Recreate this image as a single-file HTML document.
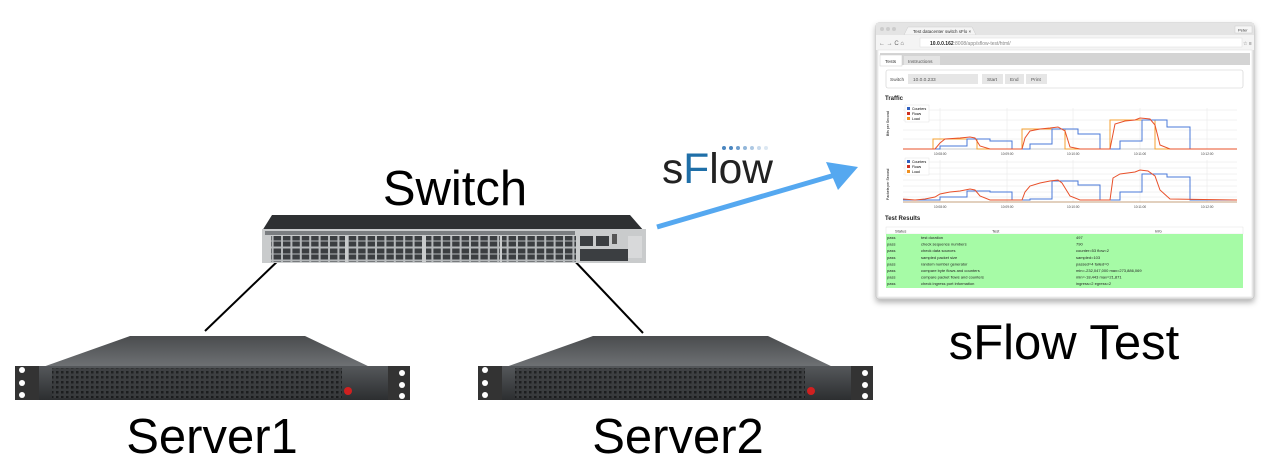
<!DOCTYPE html>
<html><head><meta charset="utf-8"><style>
html,body{margin:0;padding:0;background:#fff;width:1278px;height:476px;overflow:hidden}
svg{display:block}
</style></head><body>
<svg width="1278" height="476" viewBox="0 0 1278 476" xmlns="http://www.w3.org/2000/svg" font-family="Liberation Sans, sans-serif">
<defs>
<linearGradient id="top" x1="0" y1="0" x2="0" y2="1"><stop offset="0" stop-color="#4a4c4e"/><stop offset="1" stop-color="#707376"/></linearGradient>
<linearGradient id="front" x1="0" y1="0" x2="0" y2="1"><stop offset="0" stop-color="#55585b"/><stop offset="1" stop-color="#2c2e30"/></linearGradient>
<pattern id="grill" width="5" height="5" patternUnits="userSpaceOnUse"><rect width="5" height="5" fill="#3a3c3e"/><rect x="1" y="1" width="2.5" height="2.5" fill="#151617"/></pattern>
<pattern id="ports" width="9.4" height="13" patternUnits="userSpaceOnUse"><rect width="9.4" height="13" fill="#b5b8ba"/><rect x="1" y="1.5" width="7.4" height="5" fill="#3b3e41"/><rect x="1" y="7.5" width="7.4" height="5" fill="#3b3e41"/></pattern>
<filter id="sh" x="-5%" y="-5%" width="110%" height="115%"><feDropShadow dx="0" dy="3" stdDeviation="3" flood-color="#000" flood-opacity="0.3"/></filter>
</defs>

<text x="455" y="205" font-size="49" text-anchor="middle" fill="#000">Switch</text>
<text x="212" y="453" font-size="49" text-anchor="middle" fill="#000">Server1</text>
<text x="678" y="453" font-size="49" text-anchor="middle" fill="#000">Server2</text>
<text x="1064" y="359" font-size="49" text-anchor="middle" fill="#000">sFlow Test</text>

<line x1="283" y1="256" x2="205" y2="331" stroke="#000" stroke-width="2"/>
<line x1="570" y1="256" x2="643" y2="333" stroke="#000" stroke-width="2"/>

<polygon points="272,215 630,215 644,231 262,231" fill="#2e3032"/>
<rect x="262" y="229" width="384" height="34" fill="#c9cbcc"/>
<rect x="265" y="231" width="310" height="4" fill="#7a7d80"/>
<rect x="271" y="236" width="74" height="26" fill="url(#ports)"/>
<rect x="348" y="236" width="74" height="26" fill="url(#ports)"/>
<rect x="426" y="236" width="74" height="26" fill="url(#ports)"/>
<rect x="502" y="236" width="74" height="26" fill="url(#ports)"/>
<rect x="580" y="236" width="13" height="10" fill="#3b3e41"/>
<rect x="596" y="236" width="13" height="10" fill="#3b3e41"/>
<rect x="612" y="234" width="5" height="10" fill="#555"/>
<rect x="580" y="249" width="48" height="12" fill="#3b3e41"/>
<rect x="628" y="236" width="14" height="22" fill="#d8d9da"/>

<g>
<polygon points="130,336 305,336 372,368 40,368" fill="url(#top)"/>
<rect x="15" y="366" width="395" height="34" fill="url(#front)"/>
<rect x="15" y="366" width="24" height="34" fill="#333"/>
<rect x="388" y="366" width="22" height="34" fill="#333"/>
<circle cx="22" cy="370" r="3" fill="#fff"/><circle cx="22" cy="383" r="3" fill="#fff"/><circle cx="22" cy="395" r="3" fill="#fff"/>
<circle cx="402" cy="373" r="3" fill="#fff"/><circle cx="402" cy="385" r="3" fill="#fff"/><circle cx="402" cy="396" r="3" fill="#fff"/>
<rect x="52" y="368" width="290" height="30" fill="url(#grill)" opacity="0.8"/>
<circle cx="348" cy="391" r="4" fill="#d02020"/>
</g>
<g transform="translate(463,0)">
<polygon points="130,336 305,336 372,368 40,368" fill="url(#top)"/>
<rect x="15" y="366" width="395" height="34" fill="url(#front)"/>
<rect x="15" y="366" width="24" height="34" fill="#333"/>
<rect x="388" y="366" width="22" height="34" fill="#333"/>
<circle cx="22" cy="370" r="3" fill="#fff"/><circle cx="22" cy="383" r="3" fill="#fff"/><circle cx="22" cy="395" r="3" fill="#fff"/>
<circle cx="402" cy="373" r="3" fill="#fff"/><circle cx="402" cy="385" r="3" fill="#fff"/><circle cx="402" cy="396" r="3" fill="#fff"/>
<rect x="52" y="368" width="290" height="30" fill="url(#grill)" opacity="0.8"/>
<circle cx="348" cy="391" r="4" fill="#d02020"/>
</g>

<text x="662" y="183" font-size="43" fill="#222" letter-spacing="0" textLength="111" lengthAdjust="spacingAndGlyphs"><tspan>s</tspan><tspan fill="#1f6fa8">F</tspan><tspan>low</tspan></text>
<g fill="#4a86c0">
<circle cx="724" cy="148" r="2"/><circle cx="731" cy="148" r="2"/><circle cx="738" cy="148" r="2" opacity=".8"/><circle cx="745" cy="148" r="2" opacity=".6"/><circle cx="752" cy="148" r="2" opacity=".45"/><circle cx="759" cy="148" r="2" opacity=".3"/><circle cx="766" cy="148" r="2" opacity=".2"/>
</g>
<line x1="657" y1="227" x2="835" y2="175" stroke="#55a8f0" stroke-width="5"/>
<polygon points="858,167 826,162 838,190" fill="#55a8f0"/>

<g filter="url(#sh)">
<rect x="876" y="23" width="378" height="276" rx="3" fill="#e8e8e8" stroke="#c8c8c8"/>
</g>
<rect x="876" y="23" width="378" height="12" fill="#e4e4e4"/>
<circle cx="882" cy="29" r="2" fill="#ccc"/><circle cx="888" cy="29" r="2" fill="#ccc"/><circle cx="894" cy="29" r="2" fill="#ccc"/>
<path d="M904,35 L908,27 L972,27 L976,35 Z" fill="#f4f4f4" stroke="#ccc" stroke-width=".5"/>
<text x="913" y="33" font-size="4.5" fill="#333">Test datacenter switch sFlo ×</text>
<rect x="1235" y="26" width="17" height="7" fill="#f6f6f6" stroke="#ccc" stroke-width=".5"/>
<text x="1238" y="31.5" font-size="4" fill="#333">Peter</text>
<rect x="876" y="35" width="378" height="15" fill="#f4f4f4"/>
<text x="879" y="45" font-size="6" fill="#666">← → C ⌂</text>
<rect x="920" y="38" width="322" height="9" fill="#fff" stroke="#ddd" stroke-width=".5"/>
<text x="930" y="45" font-size="5" fill="#222"><tspan font-weight="bold">10.0.0.162</tspan><tspan fill="#888">:8008/app/sflow-test/html/</tspan></text>
<text x="1243" y="45" font-size="5" fill="#666">☆ ≡</text>
<rect x="878" y="50" width="374" height="247" fill="#fff" stroke="#ddd" stroke-width=".5"/>
<rect x="880" y="53" width="370" height="12" fill="#d4d4d4"/>
<rect x="880" y="55" width="22" height="11" fill="#fff" stroke="#ccc" stroke-width=".5"/>
<text x="885" y="63" font-size="4.8" fill="#333">Tests</text>
<rect x="904" y="56" width="36" height="9" fill="#e4e4e4"/>
<text x="908" y="63" font-size="4.8" fill="#555">Instructions</text>
<rect x="886" y="70" width="357" height="18" rx="2" fill="#fff" stroke="#ccc" stroke-width=".6"/>
<text x="890" y="81" font-size="4.8" fill="#444">Switch</text>
<rect x="908" y="74" width="70" height="10" fill="#e6e6e6"/>
<text x="913" y="81" font-size="4.8" fill="#555">10.0.0.233</text>
<rect x="982" y="74" width="21" height="10" fill="#e6e6e6"/><text x="987" y="81" font-size="4.8" fill="#555">Start</text>
<rect x="1005" y="74" width="19" height="10" fill="#e6e6e6"/><text x="1010" y="81" font-size="4.8" fill="#555">End</text>
<rect x="1026" y="74" width="21" height="10" fill="#e6e6e6"/><text x="1031" y="81" font-size="4.8" fill="#555">Print</text>
<text x="885" y="100" font-size="6" font-weight="bold" fill="#222">Traffic</text>

<g stroke="#e6e6e6" stroke-width=".5">
<line x1="903" y1="110" x2="1237" y2="110"/><line x1="903" y1="120" x2="1237" y2="120"/><line x1="903" y1="130" x2="1237" y2="130"/><line x1="903" y1="139" x2="1237" y2="139"/>
<line x1="940" y1="108" x2="940" y2="149"/><line x1="1007" y1="108" x2="1007" y2="149"/><line x1="1073" y1="108" x2="1073" y2="149"/><line x1="1140" y1="108" x2="1140" y2="149"/><line x1="1207" y1="108" x2="1207" y2="149"/>
</g>
<line x1="903" y1="149" x2="1237" y2="149" stroke="#999" stroke-width=".5"/>
<polyline fill="none" stroke="#f5a030" stroke-width="1" points="903,149 933,149 933,139 977,139 977,149 1022,149 1022,129 1065,129 1065,149 1110,149 1110,120 1155,120 1155,149 1237,149"/>
<polyline fill="none" stroke="#4a78d8" stroke-width="1" points="903,149 940,149 940,146 967,146 967,139 990,139 990,141 1012,141 1012,149 1030,149 1030,144 1052,144 1052,129 1078,129 1078,134 1100,134 1100,149 1120,149 1120,141 1142,141 1142,120 1167,120 1167,127 1190,127 1190,149 1237,149"/>
<polyline fill="none" stroke="#e8502a" stroke-width="1" points="903,149 935,149 940,143 945,139 960,138 970,137 975,138 980,146 990,149 1022,149 1025,138 1030,131 1040,129 1050,128 1058,127 1065,131 1070,147 1080,149 1110,149 1115,124 1125,121 1135,120 1140,118 1150,119 1155,125 1160,145 1170,149 1237,149"/>
<rect x="905" y="105" width="24" height="17" fill="#fff" stroke="#ddd" stroke-width=".4"/>
<rect x="907" y="107" width="3" height="3" fill="#3060c0"/><text x="912" y="110" font-size="3.5">Counters</text>
<rect x="907" y="112" width="3" height="3" fill="#d03020"/><text x="912" y="115" font-size="3.5">Flows</text>
<rect x="907" y="117" width="3" height="3" fill="#f09020"/><text x="912" y="120" font-size="3.5">Load</text>
<text x="889" y="136" font-size="3.5" transform="rotate(-90 889 136)">Bits per Second</text>
<g font-size="3.2" fill="#444"><text x="934" y="155">10:08:00</text><text x="1001" y="155">10:09:00</text><text x="1067" y="155">10:10:00</text><text x="1134" y="155">10:11:00</text><text x="1201" y="155">10:12:00</text></g>

<g stroke="#e6e6e6" stroke-width=".5">
<line x1="903" y1="162" x2="1237" y2="162"/><line x1="903" y1="168" x2="1237" y2="168"/><line x1="903" y1="174" x2="1237" y2="174"/><line x1="903" y1="180" x2="1237" y2="180"/><line x1="903" y1="186" x2="1237" y2="186"/><line x1="903" y1="192" x2="1237" y2="192"/><line x1="903" y1="197" x2="1237" y2="197"/>
<line x1="940" y1="160" x2="940" y2="202"/><line x1="1007" y1="160" x2="1007" y2="202"/><line x1="1073" y1="160" x2="1073" y2="202"/><line x1="1140" y1="160" x2="1140" y2="202"/><line x1="1207" y1="160" x2="1207" y2="202"/>
</g>
<line x1="903" y1="202" x2="1237" y2="202" stroke="#b08050" stroke-width=".8"/>
<polyline fill="none" stroke="#4a78d8" stroke-width="1" points="903,200 940,200 940,197 967,197 967,191 990,191 990,192 1012,192 1012,200 1030,200 1030,199 1052,199 1052,181 1078,181 1078,185 1100,185 1100,200 1120,200 1120,192 1142,192 1142,174 1167,174 1167,177 1190,177 1190,200 1237,200"/>
<polyline fill="none" stroke="#e8502a" stroke-width="1" points="903,199 915,200 925,199 935,197 940,194 950,192 960,191 970,189 975,190 980,196 990,200 1022,200 1025,192 1030,186 1040,183 1050,181 1058,180 1062,183 1070,196 1080,200 1110,200 1113,178 1120,174 1135,172 1140,170 1148,171 1155,176 1160,190 1170,199 1237,200"/>
<rect x="905" y="158" width="24" height="17" fill="#fff" stroke="#ddd" stroke-width=".4"/>
<rect x="907" y="160" width="3" height="3" fill="#3060c0"/><text x="912" y="163" font-size="3.5">Counters</text>
<rect x="907" y="165" width="3" height="3" fill="#d03020"/><text x="912" y="168" font-size="3.5">Flows</text>
<rect x="907" y="170" width="3" height="3" fill="#f09020"/><text x="912" y="173" font-size="3.5">Load</text>
<text x="889" y="200" font-size="3.5" transform="rotate(-90 889 200)">Packets per Second</text>
<g font-size="3.2" fill="#444"><text x="934" y="208">10:08:00</text><text x="1001" y="208">10:09:00</text><text x="1067" y="208">10:10:00</text><text x="1134" y="208">10:11:00</text><text x="1201" y="208">10:12:00</text></g>

<text x="885" y="220" font-size="6" font-weight="bold" fill="#222">Test Results</text>
<rect x="886" y="227" width="357" height="7" fill="#fff" stroke="#ddd" stroke-width=".4"/>
<g font-size="4" fill="#333"><text x="895" y="232.5">Status</text><text x="992" y="232.5">Test</text><text x="1155" y="232.5">Info</text></g>
<rect x="886" y="234" width="357" height="54" fill="#a6fba6"/>
<g font-size="4" fill="#222">
<text x="887" y="239">pass</text><text x="921" y="239">test duration</text><text x="1076" y="239">497</text>
<text x="887" y="245.6">pass</text><text x="921" y="245.6">check sequence numbers</text><text x="1076" y="245.6">790</text>
<text x="887" y="252.2">pass</text><text x="921" y="252.2">check data sources</text><text x="1076" y="252.2">counter=53 flow=2</text>
<text x="887" y="258.8">pass</text><text x="921" y="258.8">sampled packet size</text><text x="1076" y="258.8">sampled=103</text>
<text x="887" y="265.4">pass</text><text x="921" y="265.4">random number generator</text><text x="1076" y="265.4">passed=4 failed=0</text>
<text x="887" y="272">pass</text><text x="921" y="272">compare byte flows and counters</text><text x="1076" y="272">min=-232,047,000 max=273,886,069</text>
<text x="887" y="278.6">pass</text><text x="921" y="278.6">compare packet flows and counters</text><text x="1076" y="278.6">min=-18,443 max=21,871</text>
<text x="887" y="285.2">pass</text><text x="921" y="285.2">check ingress port information</text><text x="1076" y="285.2">ingress=2 egress=2</text>
</g>
</svg>
</body></html>
